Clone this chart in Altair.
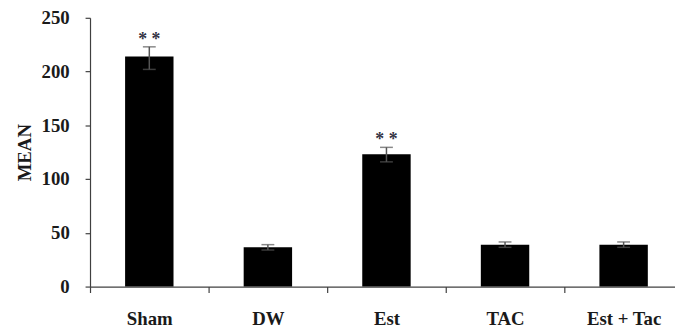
import altair as alt
import pandas as pd

groups = ["Sham", "DW", "Est", "TAC", "Est + Tac"]
means = [214, 36.5, 123, 39, 39]
err_lo = [202, 34, 116, 36.5, 36.5]
err_hi = [223, 39, 129.5, 41.5, 41.5]
sig = ["* *", "", "* *", "", ""]

df = pd.DataFrame({"group": groups, "mean": means, "lo": err_lo, "hi": err_hi, "sig": sig})

FONT = "Liberation Serif"
AX = "#404040"

xaxis = alt.Axis(
    title=None, labelAngle=0, tickBand="extent", tickSize=6,
    labelPadding=17, labelFont=FONT, labelFontSize=19, labelFontWeight="bold",
    labelColor="#1a1a1a", domainColor=AX, tickColor=AX, domainWidth=1.2,
    tickWidth=1.2, grid=False,
)
xscale = alt.Scale(range=[0, 600], paddingInner=0, paddingOuter=0)
yaxis = alt.Axis(
    values=[0, 50, 100, 150, 200, 250], title="MEAN", grid=False,
    tickSize=5, labelPadding=16, labelFont=FONT, labelFontSize=19,
    labelFontWeight="bold", labelColor="#1a1a1a", domainColor=AX,
    tickColor=AX, domainWidth=1.2, tickWidth=1.2,
    titleFont=FONT, titleFontSize=19, titleFontWeight="bold",
    titleColor="#1a1a1a", titleAngle=-90, titleAlign="center",
    titleBaseline="alphabetic", titleX=-60, titleY=136,
)
yscale = alt.Scale(domain=[0, 250], nice=False)


def xenc():
    return alt.X("group:N", sort=groups, scale=xscale, axis=xaxis)


bars = alt.Chart(df).mark_bar(color="black", size=49).encode(
    x=xenc(),
    y=alt.Y("mean:Q", scale=yscale, axis=yaxis),
)

rules = alt.Chart(df).mark_rule(color="#555555", strokeWidth=1.5).encode(
    x=xenc(),
    y=alt.Y("lo:Q", scale=yscale, axis=yaxis),
    y2="hi:Q",
)
caps_lo = alt.Chart(df).mark_tick(color="#555555", size=13, thickness=1.5, orient="horizontal").encode(
    x=xenc(),
    y=alt.Y("lo:Q", scale=yscale, axis=yaxis),
)
caps_hi = alt.Chart(df).mark_tick(color="#555555", size=13, thickness=1.5, orient="horizontal").encode(
    x=xenc(),
    y=alt.Y("hi:Q", scale=yscale, axis=yaxis),
)
stars = alt.Chart(df).mark_text(
    font=FONT, fontSize=18, fontWeight="bold", color="#333344",
    baseline="alphabetic", dy=-2,
).encode(
    x=xenc(),
    y=alt.Y("hi:Q", scale=yscale, axis=yaxis),
    text="sig:N",
)

chart = alt.layer(bars, rules, caps_lo, caps_hi, stars).properties(
    width=592, height=272,
    autosize=alt.AutoSizeParams(type="none"),
    padding={"left": 83, "top": 8, "right": 0, "bottom": 40},
).configure_view(stroke=None)

chart.save("out.html", embed_options={"renderer": "svg", "actions": False})
